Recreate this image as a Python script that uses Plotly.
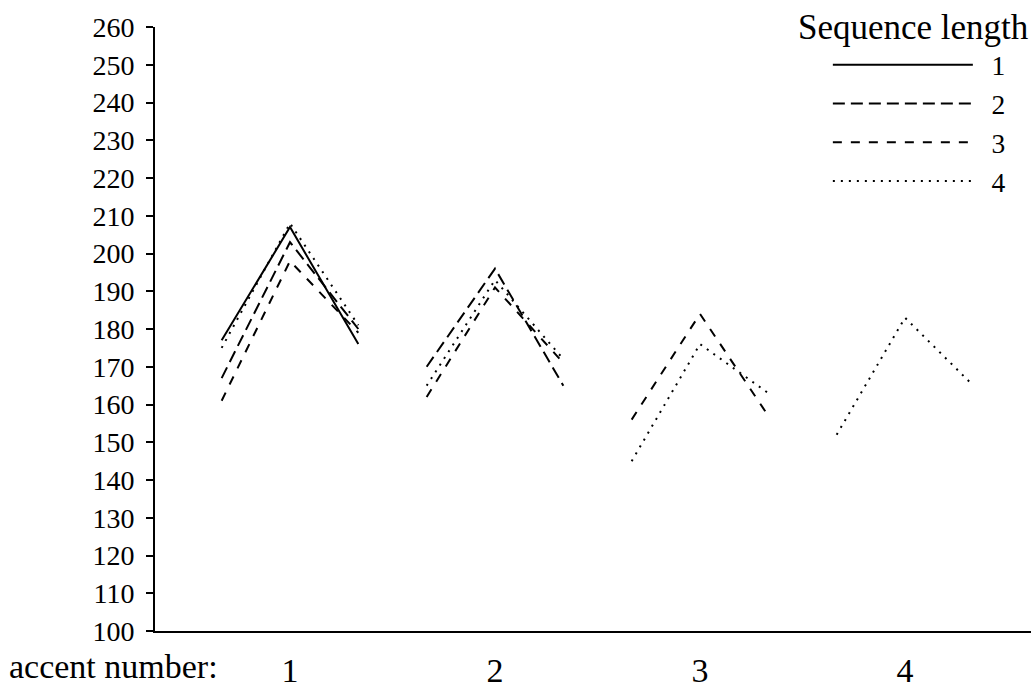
import plotly.graph_objects as go

# Accent positions on the x axis and the three measurement phases per accent
accents = [1, 2, 3, 4]
phase_offsets = [-1 / 3, 0.0, 1 / 3]   # before accent, accent peak, after accent

# Values per sequence length: one [before, peak, after] triple per accent
seq_len_1 = [[177, 207, 176]]
seq_len_2 = [[167, 203, 180], [170, 196, 165]]
seq_len_3 = [[161, 198, 179], [162, 191, 171], [156, 184, 157]]
seq_len_4 = [[175, 208, 181], [165, 193, 172], [145, 176, 163], [152, 183, 165]]

series_names = ["1", "2", "3", "4"]
series_values = [seq_len_1, seq_len_2, seq_len_3, seq_len_4]
series_dash = ["solid", "12px,6px", "9px,9px", "2px,6px"]

y_ticks = list(range(100, 261, 10))

TICK_FONT = "Liberation Serif"
TEXT_FONT = "Liberation Serif"
NBSP = "\u00a0"

fig = go.Figure()

for name, values, dash in zip(series_names, series_values, series_dash):
    xs, ys = [], []
    for acc, triple in zip(accents, values):
        for off, v in zip(phase_offsets, triple):
            xs.append(acc + off)
            ys.append(v)
        xs.append(None)   # break the line between accents
        ys.append(None)
    fig.add_trace(go.Scatter(
        x=xs, y=ys, name=NBSP * 2 + name, mode="lines",
        line=dict(color="black", width=2, dash=dash),
        connectgaps=False,
    ))

# x-axis caption to the left of the accent numbers
fig.add_annotation(
    text="accent number:", xref="paper", yref="paper",
    x=0.074, y=-0.058, xanchor="right", yanchor="middle",
    showarrow=False, font=dict(family=TEXT_FONT, size=34, color="black"),
)

# legend heading
fig.add_annotation(
    text="Sequence length", xref="paper", yref="paper",
    x=1.0, y=1.0, xanchor="right", yanchor="middle",
    showarrow=False, font=dict(family=TEXT_FONT, size=35, color="black"),
)

fig.update_layout(
    width=1031, height=691,
    margin=dict(l=155, r=0, t=27, b=60, autoexpand=False),
    paper_bgcolor="white", plot_bgcolor="white",
    showlegend=True,
    legend=dict(
        x=0.977, y=0.978, xanchor="right", yanchor="top",
        bgcolor="rgba(0,0,0,0)",
        font=dict(family=TEXT_FONT, size=27.5, color="black"),
        itemwidth=140,
        tracegroupgap=0,
    ),
    xaxis=dict(
        range=[0.3415, 4.6146], automargin=False,
        tickvals=accents, ticktext=[str(a) for a in accents],
        ticks="", showgrid=False, zeroline=False,
        showline=True, linecolor="black", linewidth=2,
        tickfont=dict(family=TEXT_FONT, size=34, color="black"),
        ticklabelstandoff=8,
    ),
    yaxis=dict(
        range=[100, 260], tickvals=y_ticks, automargin=False,
        ticks="outside", ticklen=7, tickwidth=1.5, tickcolor="black",
        showgrid=False, zeroline=False,
        showline=True, linecolor="black", linewidth=2,
        tickfont=dict(family=TICK_FONT, size=28, color="black"),
        ticklabelstandoff=6,
    ),
)

fig.write_html("out.html")
